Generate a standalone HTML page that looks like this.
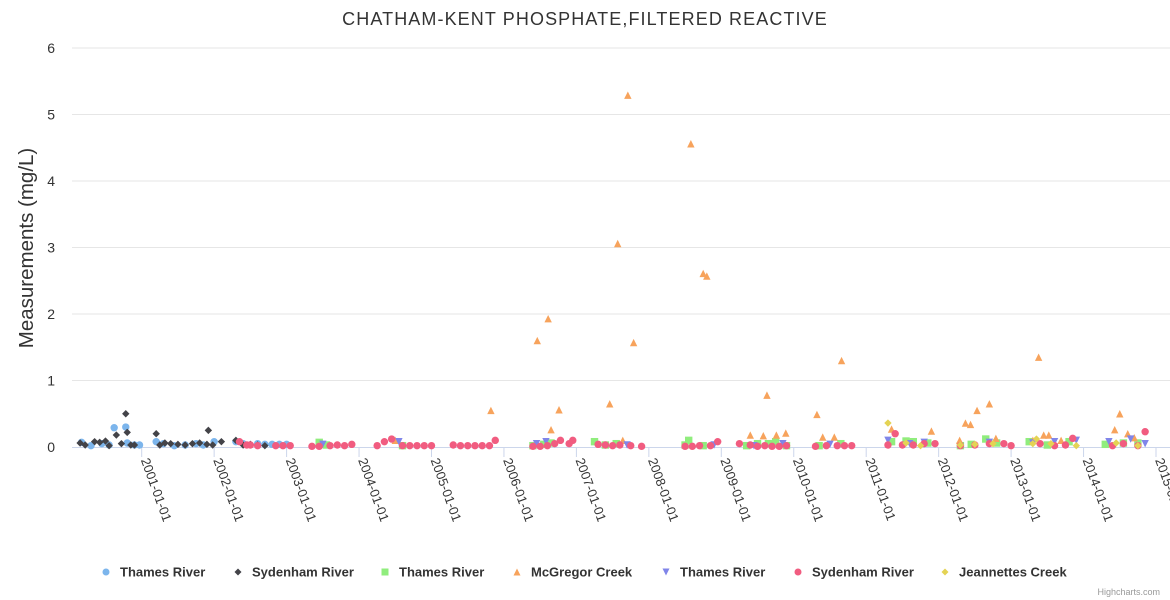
<!DOCTYPE html>
<html><head><meta charset="utf-8"><style>
body{margin:0;background:#fff;font-family:"Liberation Sans",sans-serif}
svg{display:block}
</style></head><body>
<svg id="chart" width="1170" height="600" xmlns="http://www.w3.org/2000/svg">
<text x="585" y="25" text-anchor="middle" font-size="18" letter-spacing="1.1" fill="#333" font-family="Liberation Sans, sans-serif">CHATHAM-KENT PHOSPHATE,FILTERED REACTIVE</text>
<text transform="translate(33,248) rotate(-90)" text-anchor="middle" font-size="20.5" fill="#333">Measurements (mg/L)</text>
<g id="grid"></g><g id="xaxis"></g><g id="marks"></g><g id="legend"></g>
<text x="1160" y="595" text-anchor="end" font-size="9" fill="#999">Highcharts.com</text>
</svg>
<script>
const yTicks=[0,1,2,3,4,5,6];
const xTickYears=[2001,2002,2003,2004,2005,2006,2007,2008,2009,2010,2011,2012,2013,2014,2015];
const seriesNames=["Thames River","Sydenham River","Thames River","McGregor Creek","Thames River","Sydenham River","Jeannettes Creek"];
const seriesColors=["#7cb5ec","#434348","#90ed7d","#f7a35c","#8085e9","#f15c80","#e4d354"];
const seriesSymbols=["circle","diamond","square","triangle","triangle-down","circle","diamond"];
const thames1Dates=[2000.17,2000.3,2000.45,2000.55,2000.62,2000.78,2000.8,2000.9,2000.97,2001.2,2001.3,2001.45,2001.6,2001.75,2001.85,2002.0,2002.3,2002.4,2002.6,2002.7,2002.8,2002.9,2003.0];
const thames1Values=[0.07,0.02,0.05,0.03,0.29,0.3,0.06,0.03,0.03,0.08,0.05,0.02,0.03,0.05,0.03,0.08,0.08,0.05,0.05,0.04,0.04,0.04,0.04];
const syd1Dates=[2000.15,2000.22,2000.35,2000.42,2000.5,2000.55,2000.65,2000.72,2000.78,2000.8,2000.85,2000.9,2001.2,2001.25,2001.32,2001.4,2001.5,2001.6,2001.7,2001.8,2001.9,2001.92,2001.98,2002.1,2002.3,2002.4,2002.5,2002.6,2002.7];
const syd1Values=[0.06,0.03,0.08,0.07,0.09,0.02,0.18,0.05,0.5,0.22,0.03,0.03,0.2,0.03,0.06,0.05,0.04,0.03,0.05,0.06,0.04,0.25,0.03,0.08,0.1,0.03,0.04,0.03,0.02];
const thames2Dates=[2003.45,2003.55,2004.6,2006.4,2006.55,2006.65,2007.25,2007.4,2007.55,2008.5,2008.55,2008.75,2009.35,2009.5,2009.65,2009.75,2009.9,2010.35,2010.65,2011.35,2011.55,2011.65,2011.85,2012.3,2012.45,2012.65,2012.8,2013.25,2013.5,2013.8,2014.3,2014.55,2014.75];
const thames2Values=[0.07,0.03,0.02,0.02,0.04,0.06,0.08,0.03,0.05,0.03,0.1,0.02,0.02,0.05,0.05,0.08,0.02,0.02,0.05,0.08,0.09,0.08,0.06,0.02,0.04,0.12,0.06,0.08,0.03,0.08,0.04,0.06,0.06];
const mcgDates=[2004.5,2005.82,2006.46,2006.61,2006.65,2006.76,2007.46,2007.64,2007.57,2007.71,2007.79,2008.58,2008.75,2008.8,2009.4,2009.58,2009.63,2009.76,2009.89,2010.32,2010.4,2010.56,2010.66,2011.35,2011.9,2012.29,2012.37,2012.44,2012.53,2012.7,2012.79,2013.3,2013.38,2013.45,2013.52,2013.69,2014.43,2014.5,2014.61,2014.7];
const mcgValues=[0.1,0.55,1.6,1.93,0.26,0.56,0.65,0.1,3.06,5.29,1.57,4.56,2.61,2.57,0.18,0.17,0.78,0.18,0.21,0.49,0.15,0.15,1.3,0.27,0.24,0.1,0.36,0.34,0.55,0.65,0.13,0.1,1.35,0.18,0.18,0.1,0.26,0.5,0.2,0.14];
const thames3Dates=[2003.5,2004.55,2006.45,2006.58,2007.7,2008.9,2009.45,2009.85,2010.5,2011.3,2011.6,2011.8,2012.7,2013.3,2013.6,2013.9,2014.35,2014.65,2014.85];
const thames3Values=[0.04,0.08,0.05,0.08,0.03,0.03,0.02,0.05,0.04,0.1,0.05,0.07,0.07,0.06,0.08,0.1,0.08,0.12,0.05];
const syd2Dates=[2002.35,2002.45,2002.5,2002.6,2002.85,2002.95,2003.05,2003.35,2003.45,2003.6,2003.7,2003.8,2003.9,2004.25,2004.35,2004.45,2004.6,2004.7,2004.8,2004.9,2005.0,2005.3,2005.4,2005.5,2005.6,2005.7,2005.8,2005.88,2006.4,2006.5,2006.6,2006.7,2006.78,2006.9,2006.95,2007.3,2007.4,2007.5,2007.6,2007.75,2007.9,2008.5,2008.6,2008.7,2008.85,2008.95,2009.25,2009.4,2009.5,2009.6,2009.7,2009.8,2009.9,2010.3,2010.45,2010.6,2010.7,2010.8,2011.3,2011.4,2011.5,2011.65,2011.8,2011.95,2012.3,2012.5,2012.7,2012.9,2013.0,2013.4,2013.6,2013.75,2013.85,2014.4,2014.55,2014.75,2014.85];
const syd2Values=[0.08,0.03,0.03,0.02,0.02,0.02,0.02,0.01,0.01,0.02,0.03,0.02,0.04,0.02,0.08,0.12,0.02,0.02,0.02,0.02,0.02,0.03,0.02,0.02,0.02,0.02,0.02,0.1,0.01,0.01,0.02,0.05,0.1,0.05,0.1,0.04,0.03,0.02,0.03,0.02,0.01,0.01,0.01,0.02,0.02,0.08,0.05,0.03,0.01,0.02,0.01,0.01,0.02,0.01,0.02,0.02,0.02,0.02,0.03,0.2,0.03,0.03,0.05,0.05,0.02,0.03,0.05,0.05,0.02,0.05,0.02,0.03,0.13,0.02,0.05,0.02,0.23];
const jeanDates=[2011.3,2011.55,2011.75,2012.3,2012.5,2012.75,2013.3,2013.35,2013.55,2013.9,2014.45,2014.75];
const jeanValues=[0.36,0.06,0.02,0.03,0.04,0.05,0.05,0.12,0.05,0.02,0.06,0.02];
const allDates=[thames1Dates,syd1Dates,thames2Dates,mcgDates,thames3Dates,syd2Dates,jeanDates];
const allValues=[thames1Values,syd1Values,thames2Values,mcgValues,thames3Values,syd2Values,jeanValues];

const NS="http://www.w3.org/2000/svg";
const X0=141.7,PXY=72.45,Y0=447,PXV=66.5,LEFT=72,RIGHT=1170;
function xs(d){return X0+(d-2001)*PXY;}
function ys(v){return Y0-v*PXV;}
function mk(tag,attrs,parent){const e=document.createElementNS(NS,tag);for(const k in attrs)e.setAttribute(k,attrs[k]);parent.appendChild(e);return e;}
const grid=document.getElementById('grid'),xa=document.getElementById('xaxis'),marks=document.getElementById('marks'),leg=document.getElementById('legend');
yTicks.forEach(t=>{
  if(t>0){const l=mk('line',{x1:LEFT,x2:RIGHT,y1:ys(t),y2:ys(t),stroke:'#e6e6e6'},grid);
  
  }
  const tx=mk('text',{x:55,y:ys(t)+5,'text-anchor':'end','font-size':14,fill:'#333'},grid);tx.textContent=t;
  
  
});
const ax=mk('line',{x1:LEFT,x2:RIGHT,y1:Y0+0.5,y2:Y0+0.5,stroke:'#ccd6eb'},xa);


xTickYears.forEach(yr=>{
  const x=xs(yr);
  const tk=mk('line',{x1:x,x2:x,y1:Y0,y2:Y0+10,stroke:'#ccd6eb'},xa);
  
  
  const tx=mk('text',{x:0,y:0,'font-size':13,fill:'#333',transform:`translate(${x-1},${Y0+13}) rotate(70)`},xa);
  tx.textContent=yr+'-01-01';
  
  
});
function symbol(sym,x,y,r,color,parent){
  let e;
  if(sym==='circle')e=mk('circle',{cx:x,cy:y,r:r,fill:color},parent);
  else if(sym==='square')e=mk('rect',{x:x-r,y:y-r,width:2*r,height:2*r,fill:color},parent);
  else if(sym==='diamond')e=mk('path',{d:`M${x} ${y-r}L${x+r} ${y}L${x} ${y+r}L${x-r} ${y}Z`,fill:color},parent);
  else if(sym==='triangle')e=mk('path',{d:`M${x} ${y-r}L${x+r} ${y+r}L${x-r} ${y+r}Z`,fill:color},parent);
  else e=mk('path',{d:`M${x-r} ${y-r}L${x+r} ${y-r}L${x} ${y+r}Z`,fill:color},parent);
  return e;
}
allDates.forEach((ds,si)=>{
  const g=mk('g',{},marks);
  
  
  ds.forEach((d,i)=>{
    const p=symbol(seriesSymbols[si],xs(d),ys(allValues[si][i]),3.7,seriesColors[si],g);
    
    
  });
});
const legX=[106,238,385,517,666,798,945];
seriesNames.forEach((n,i)=>{
  const g=mk('g',{},leg);
  
  
  symbol(seriesSymbols[i],legX[i],572,3.5,seriesColors[i],g);
  const t=mk('text',{x:legX[i]+14,y:576.5,'font-size':13,'font-weight':'bold',fill:'#333'},g);
  t.textContent=n;
});
</script>
</body></html>
